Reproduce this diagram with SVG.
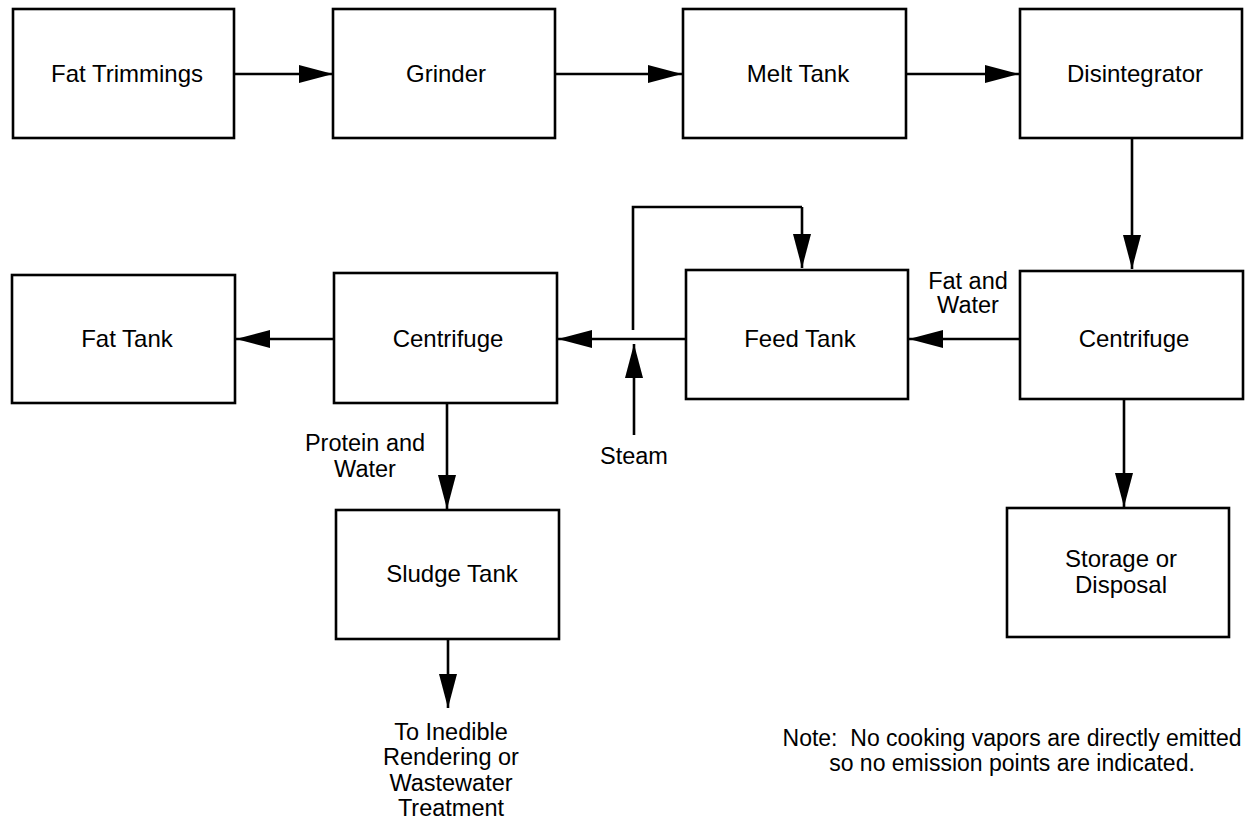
<svg xmlns="http://www.w3.org/2000/svg" width="1247" height="825" viewBox="0 0 1247 825">
<style>
.box{fill:#fff;stroke:#000;stroke-width:2.6}
.t{font-family:"Liberation Sans",Arial,sans-serif;font-size:24px;fill:#000;text-anchor:middle}
.s{font-size:23.5px}
.n{font-size:23px}
.c{fill:none;stroke:#000;stroke-width:2.6;marker-end:url(#ah)}
.l{fill:none;stroke:#000;stroke-width:2.6}
</style>
<defs>
<marker id="ah" markerUnits="userSpaceOnUse" markerWidth="34" markerHeight="18" refX="34" refY="9" orient="auto" viewBox="0 0 34 18">
<path d="M0,0 L34,9 L0,18 z" fill="#000"/>
</marker>
</defs>
<rect width="1247" height="825" fill="#fff"/>
<g id="connectors">
<path class="c" d="M234,74 H333"/>
<path class="c" d="M555,74 H682"/>
<path class="c" d="M906,74 H1019"/>
<path class="c" d="M1132,138 V269"/>
<path class="c" d="M1020,339 H909"/>
<path class="c" d="M686,339 H558"/>
<path class="l" d="M633,330 V207 H802"/>
<path class="c" d="M802,207 V268"/>
<path class="c" d="M634,435 V344"/>
<path class="c" d="M334,339 H236"/>
<path class="c" d="M447,403 V509"/>
<path class="c" d="M448,639 V708"/>
<path class="c" d="M1124,399 V507"/>
</g>
<g id="fat-trimmings"><rect class="box" x="13" y="9" width="221" height="129"/><text class="t" x="127" y="82">Fat Trimmings</text></g>
<g id="grinder"><rect class="box" x="333" y="9" width="222" height="129"/><text class="t" x="446" y="82">Grinder</text></g>
<g id="melt-tank"><rect class="box" x="683" y="9" width="223" height="129"/><text class="t" x="798" y="82">Melt Tank</text></g>
<g id="disintegrator"><rect class="box" x="1020" y="9" width="222" height="129"/><text class="t" x="1135" y="82">Disintegrator</text></g>
<g id="centrifuge-right"><rect class="box" x="1020" y="271" width="223" height="128"/><text class="t" x="1134" y="347">Centrifuge</text></g>
<g id="feed-tank"><rect class="box" x="686" y="270" width="222" height="129"/><text class="t" x="800" y="347">Feed Tank</text></g>
<g id="centrifuge-left"><rect class="box" x="334" y="273" width="223" height="130"/><text class="t" x="448" y="347">Centrifuge</text></g>
<g id="fat-tank"><rect class="box" x="12" y="275" width="223" height="128"/><text class="t" x="127" y="347">Fat Tank</text></g>
<g id="sludge-tank"><rect class="box" x="336" y="510" width="223" height="129"/><text class="t" x="452" y="582">Sludge Tank</text></g>
<g id="storage"><rect class="box" x="1007" y="508" width="222" height="129"/><text class="t" x="1121" y="567">Storage or</text><text class="t" x="1121" y="593">Disposal</text></g>
<g id="labels">
<text class="t s" x="968" y="289">Fat and</text>
<text class="t s" x="968" y="313">Water</text>
<text class="t s" x="365" y="451">Protein and</text>
<text class="t s" x="365" y="477">Water</text>
<text class="t s" x="634" y="464">Steam</text>
<text class="t s" x="451" y="740">To Inedible</text>
<text class="t s" x="451" y="765">Rendering or</text>
<text class="t s" x="451" y="791">Wastewater</text>
<text class="t s" x="451" y="816">Treatment</text>
<text class="t n" x="1012" y="746">Note:&#160; No cooking vapors are directly emitted</text>
<text class="t n" x="1012" y="771">so no emission points are indicated.</text>
</g>
</svg>
